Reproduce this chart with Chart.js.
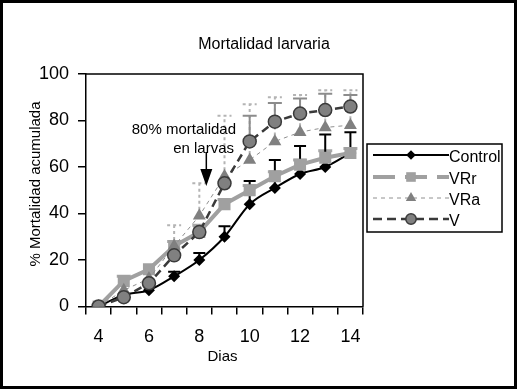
<!DOCTYPE html>
<html>
<head>
<meta charset="utf-8">
<script src="https://cdn.jsdelivr.net/npm/chart.js@4.4.1/dist/chart.umd.min.js"></script>
<style>
html,body{margin:0;padding:0;background:#fff;}
canvas{display:block;}
</style>
</head>
<body>
<canvas id="c" width="517" height="389"></canvas>
<script>
// ---- data ----
const days = ['4','5','6','7','8','9','10','11','12','13','14'];
const controlVals = [0, 5, 7, 13, 20, 30, 44, 51, 57, 60, 66];
const controlErr  = [0, 0, 0, 2, 3, 4.5, 10, 12, 12, 14, 9];
const vrrVals     = [0, 11, 16, 26, 32, 44, 50, 56, 61, 64, 66];
const vrrErr      = [0, 2, 0, 2, 3, 2, 2, 2, 2, 3, 2];
const vraVals     = [0, 7, 12, 26, 39, 56, 63, 71, 75, 77, 78];
const vraErr      = [0, 0, 0, 9, 14, 26, 24, 19, 16, 16, 15];
const vVals       = [0, 4, 10, 22, 32, 53, 71, 79.5, 83, 84.5, 86];
const vErr        = [0, 0, 0, 0, 0, 0, 11, 8, 6.5, 7, 5];
const yTicks = [0, 20, 40, 60, 80, 100];

const FONT = "'Liberation Sans', Arial, sans-serif";

const errStyles = [
  {err: controlErr, color: '#000000', width: 2, dash: [], cap: 6},
  {err: vrrErr, color: '#a8a8a8', width: 3, dash: [], cap: 7},
  {err: vraErr, color: '#b4b4b4', width: 2, dash: [3, 3], cap: 7},
  {err: vErr, color: '#8c8c8c', width: 2, dash: [], cap: 7}
];

const errorBarPlugin = {
  id: 'errorBars',
  beforeDatasetsDraw(chart) {
    const ctx = chart.ctx;
    const xs = chart.scales.x, ys = chart.scales.y;
    const drawOrder = [1, 0, 2, 3];
    drawOrder.forEach(di => {
      const st = errStyles[di];
      const vals = chart.data.datasets[di].data;
      ctx.save();
      ctx.strokeStyle = st.color;
      ctx.lineWidth = st.width;
      ctx.setLineDash(st.dash);
      vals.forEach((val, i) => {
        const e = st.err[i];
        if (!e) return;
        const x = xs.getPixelForValue(i);
        const y0 = ys.getPixelForValue(val);
        const y1 = ys.getPixelForValue(val + e);
        ctx.beginPath();
        ctx.moveTo(x, y0);
        ctx.lineTo(x, y1);
        ctx.moveTo(x - st.cap, y1);
        ctx.lineTo(x + st.cap, y1);
        ctx.stroke();
      });
      ctx.restore();
    });
  }
};

const decorPlugin = {
  id: 'decor',
  beforeDraw(chart) {
    const ctx = chart.ctx;
    ctx.save();
    ctx.fillStyle = '#fff';
    ctx.fillRect(0, 0, chart.width, chart.height);
    ctx.restore();
  },
  afterDraw(chart) {
    const ctx = chart.ctx;
    const ca = chart.chartArea;
    const xs = chart.scales.x;
    ctx.save();
    // plot area frame (top & right)
    ctx.strokeStyle = '#000';
    ctx.lineWidth = 1.5;
    ctx.beginPath();
    ctx.moveTo(ca.left, ca.top);
    ctx.lineTo(ca.right, ca.top);
    ctx.lineTo(ca.right, ca.bottom);
    ctx.stroke();
    // outer border
    ctx.lineWidth = 3;
    ctx.strokeRect(1.5, 1.5, chart.width - 3, chart.height - 3);

    // title
    ctx.fillStyle = '#000';
    ctx.font = '16px ' + FONT;
    ctx.textAlign = 'center';
    ctx.textBaseline = 'middle';
    ctx.fillText('Mortalidad larvaria', 264, 45);

    // axis titles
    ctx.font = '15px ' + FONT;
    ctx.fillText('Dias', (ca.left + ca.right) / 2 - 2, 357);
    ctx.save();
    ctx.translate(36, 184);
    ctx.rotate(-Math.PI / 2);
    ctx.fillText('% Mortalidad acumulada', 0, 0);
    ctx.restore();

    // annotation
    ctx.font = '15px ' + FONT;
    ctx.textAlign = 'right';
    ctx.fillText('80% mortalidad', 236, 130);
    ctx.fillText('en larvas', 234, 149);
    const ax = xs.getPixelForValue(4) + 7;
    ctx.lineWidth = 1.5;
    ctx.beginPath();
    ctx.moveTo(ax, 152);
    ctx.lineTo(ax, 170);
    ctx.stroke();
    ctx.beginPath();
    ctx.moveTo(ax - 6, 169);
    ctx.lineTo(ax + 6, 169);
    ctx.lineTo(ax, 186);
    ctx.closePath();
    ctx.fill();

    // legend
    const lx = 367, ly = 144, lw = 135, lh = 88;
    ctx.fillStyle = '#fff';
    ctx.fillRect(lx, ly, lw, lh);
    ctx.lineWidth = 1.5;
    ctx.strokeStyle = '#000';
    ctx.strokeRect(lx, ly, lw, lh);
    const rows = [155, 177, 198, 219];
    const legendDash = [[], [22, 10], [4, 4], [9, 5]];
    chart.data.datasets.forEach((ds, i) => {
      const y = rows[i];
      ctx.save();
      ctx.strokeStyle = ds.borderColor;
      ctx.lineWidth = ds.borderWidth;
      ctx.setLineDash(legendDash[i]);
      ctx.beginPath();
      ctx.moveTo(373, y);
      ctx.lineTo(449, y);
      ctx.stroke();
      ctx.restore();
      ctx.save();
      ctx.fillStyle = ds.pointBackgroundColor;
      ctx.strokeStyle = ds.pointBorderColor;
      ctx.lineWidth = ds.pointBorderWidth;
      ctx.setLineDash([]);
      ctx.beginPath();
      const r = ds.pointRadius * 0.8;
      if (ds.pointStyle === 'circle') ctx.arc(411, y, r, 0, Math.PI * 2);
      else if (ds.pointStyle === 'rect') ctx.rect(411 - r * 0.707, y - r * 0.707, r * 1.414, r * 1.414);
      else if (ds.pointStyle === 'triangle') { ctx.moveTo(411, y - r); ctx.lineTo(411 + r * 0.866, y + r / 2); ctx.lineTo(411 - r * 0.866, y + r / 2); ctx.closePath(); }
      else { ctx.moveTo(411, y - r); ctx.lineTo(411 + r, y); ctx.lineTo(411, y + r); ctx.lineTo(411 - r, y); ctx.closePath(); }
      ctx.fill();
      if (ds.pointBorderWidth) ctx.stroke();
      ctx.restore();
      ctx.fillStyle = '#000';
      ctx.font = '16px ' + FONT;
      ctx.textAlign = 'left';
      ctx.textBaseline = 'middle';
      ctx.fillText(ds.label, 449, y + 3);
    });
    ctx.restore();
  }
};

new Chart(document.getElementById('c'), {
  type: 'line',
  data: {
    labels: days,
    datasets: [
      {label: 'Control', data: controlVals, borderColor: '#000', borderWidth: 2,
       pointStyle: 'rectRot', pointRadius: 6, pointBackgroundColor: '#000', pointBorderColor: '#000', pointBorderWidth: 0,
       cubicInterpolationMode: 'monotone', order: 3},
      {label: 'VRr', data: vrrVals, borderColor: '#a0a0a0', borderWidth: 4,
       pointStyle: 'rect', pointRadius: 8.5, pointBackgroundColor: '#a0a0a0', pointBorderColor: '#a0a0a0', pointBorderWidth: 0,
       tension: 0, order: 2},
      {label: 'VRa', data: vraVals, borderColor: '#909090', borderWidth: 1, borderDash: [4, 4],
       pointStyle: 'triangle', pointRadius: 7.5, pointBackgroundColor: '#808080', pointBorderColor: '#808080', pointBorderWidth: 0,
       tension: 0, order: 1},
      {label: 'V', data: vVals, borderColor: '#3a3a3a', borderWidth: 2.5, borderDash: [8, 5],
       pointStyle: 'circle', pointRadius: 6.5, pointBackgroundColor: '#808080', pointBorderColor: '#3a3a3a', pointBorderWidth: 1.5,
       tension: 0, order: 0}
    ]
  },
  options: {
    responsive: false,
    animation: false,
    devicePixelRatio: 1,
    layout: {padding: {left: 0, top: 74, right: 154, bottom: 0}},
    plugins: {legend: {display: false}, title: {display: false}, tooltip: {enabled: false}},
    scales: {
      x: {
        type: 'category',
        offset: true,
        grid: {offset: true, drawOnChartArea: false, tickLength: 8, color: '#000', lineWidth: 1.5},
        border: {display: true, color: '#000', width: 1.5},
        ticks: {autoSkip: false, maxRotation: 0, padding: 12, color: '#000',
          font: {family: FONT, size: 18},
          callback: (v, i) => (i % 2 === 0 ? days[i] : '')},
        afterFit: s => { s.height = 389 - 306.5; }
      },
      y: {
        min: 0, max: 100,
        afterBuildTicks: s => { s.ticks = yTicks.map(v => ({value: v})); },
        grid: {drawOnChartArea: false, tickLength: 8, color: '#000', lineWidth: 1.5},
        border: {display: true, color: '#000', width: 1.5},
        ticks: {padding: 9, color: '#000', font: {family: FONT, size: 18}},
        afterFit: s => { s.width = 86; }
      }
    }
  },
  plugins: [errorBarPlugin, decorPlugin]
});
</script>
</body>
</html>
